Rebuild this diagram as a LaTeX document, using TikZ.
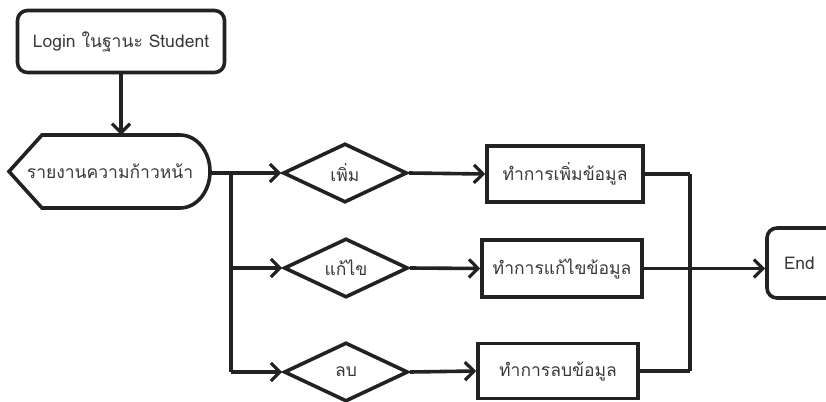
\documentclass[tikz,border=0pt]{standalone}
\usepackage{fontspec}
\newfontfamily\thaifont[Script=Thai]{Loma}
\usetikzlibrary{shapes.geometric,arrows.meta}
\definecolor{ink}{HTML}{222222}
\definecolor{txt}{HTML}{383838}
\tikzset{
  every node/.style={font=\thaifont\fontsize{17.5}{20}\selectfont, text=txt},
  heavy/.style={draw=ink, line width=3.6pt},
  flow/.style={heavy, -{Straight Barb[length=9pt,width=18pt,line width=3.2pt]}},
  termbox/.style={heavy, rounded corners=10pt, inner sep=0pt},
  procbox/.style={heavy, inner sep=0pt},
  choice/.style={heavy, diamond, aspect=2.1, inner sep=0pt, minimum width=124pt, minimum height=59pt},
}
\begin{document}
\begin{tikzpicture}[x=1pt, y=-1pt]
\useasboundingbox (0,0) rectangle (826,401);
\clip (0,0) rectangle (826,401);

% start terminal
\node[termbox, minimum width=207pt, minimum height=62pt] (login) at (121,41.5) {Login ในฐานะ Student};

% display symbol
\draw[heavy, fill=white] (42,135) -- (180,135)
  arc[start angle=90, end angle=-90, x radius=30pt, y radius=36.5pt]
  -- (42,208) -- (9,171.5) -- cycle;
\node (disp) at (110,171.5) {รายงานความก้าวหน้า};
\coordinate (dispE) at (210,173);
\coordinate (dispN) at (121,135);

% choices
\node[choice] (d1) at (345,173) {เพิ่ม};
\node[choice] (d2) at (346,268) {แก้ไข};
\node[choice] (d3) at (346,372) {ลบ};

% actions
\node[procbox, minimum width=156pt, minimum height=56pt] (b1) at (565,174) {ทำการเพิ่มข้อมูล};
\node[procbox, minimum width=160pt, minimum height=57pt] (b2) at (562,268.5) {ทำการแก้ไขข้อมูล};
\node[procbox, minimum width=160pt, minimum height=55pt] (b3) at (558,371) {ทำการลบข้อมูล};

% end terminal (runs past the right edge)
\node[termbox, minimum width=90pt, minimum height=70pt, text width=84pt, align=left] (fin) at (812,263) {\hspace*{14pt}End};

% junctions
\coordinate (jl) at (231,173);
\coordinate (jr) at (690,174);

% connectors
\draw[flow] (login) -- (dispN);
\draw[flow] (dispE) -- (d1.west);
\draw[heavy] (jl) -- (jl |- d3.west);
\draw[flow] (jl |- d2.west) -- (d2.west);
\draw[flow] (jl |- d3.west) -- (d3.west);
\draw[flow] (d1.east) -- (b1.west);
\draw[flow] (d2.east) -- (b2.west);
\draw[flow] (d3.east) -- (b3.west);
\draw[heavy] (b1.east) -- (jr);
\draw[heavy] (jr) -- (jr |- b3.east);
\draw[heavy] (b3.east) -- (jr |- b3.east);
\draw[flow] (b2.east) -- (fin.west |- b2.east);
\end{tikzpicture}
\end{document}
